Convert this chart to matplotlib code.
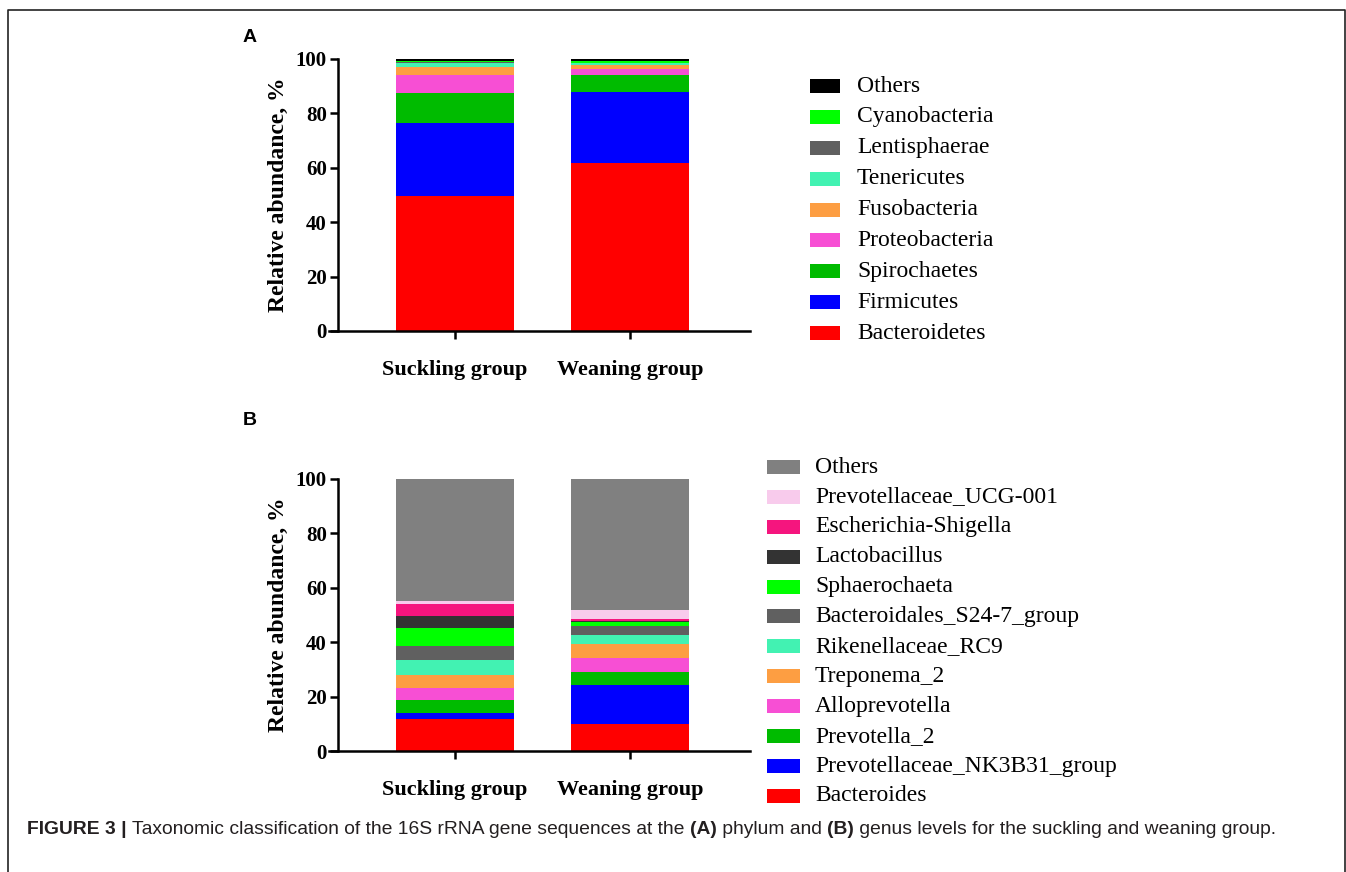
import numpy as np
import matplotlib.pyplot as plt
from matplotlib.patches import Rectangle
from matplotlib.lines import Line2D

# grupos
grupos = ["Suckling group", "Weaning group"]

# Panel A - filo (de abajo hacia arriba)
filos = ["Bacteroidetes", "Firmicutes", "Spirochaetes", "Proteobacteria",
         "Fusobacteria", "Tenericutes", "Lentisphaerae", "Cyanobacteria", "Others"]
filo_suckling = [49.6, 26.7, 11.2, 6.6, 2.9, 1.4, 0.6, 0.3, 0.7]
filo_weaning = [61.6, 26.3, 6.1, 2.4, 1.5, 0.6, 0.2, 0.6, 0.7]
filo_colores = ["#ff0000", "#0000ff", "#00bb00", "#f74fd4", "#fd9e42",
                "#42f2b2", "#606060", "#00ff00", "#000000"]

# Panel B - genero (de abajo hacia arriba)
generos = ["Bacteroides", "Prevotellaceae_NK3B31_group", "Prevotella_2", "Alloprevotella",
           "Treponema_2", "Rikenellaceae_RC9", "Bacteroidales_S24-7_group", "Sphaerochaeta",
           "Lactobacillus", "Escherichia-Shigella", "Prevotellaceae_UCG-001", "Others"]
gen_suckling = [11.6, 2.4, 4.75, 4.25, 4.8, 5.7, 5.1, 6.7, 4.3, 4.3, 1.4, 44.7]
gen_weaning = [9.8, 14.5, 4.7, 5.3, 4.9, 3.4, 3.5, 1.4, 0.4, 0.7, 3.4, 48.0]
gen_colores = ["#ff0000", "#0000ff", "#00bb00", "#f74fd4", "#fd9e42", "#42f2b2",
               "#606060", "#00ff00", "#333333", "#f5157e", "#f8cbec", "#808080"]

W, H = 1346, 872
fig = plt.figure(figsize=(W / 100, H / 100), dpi=100)
serif = "Liberation Serif"

def px(x0, y0, x1, y1):
    # rectangulo en pixeles -> fraccion de figura
    return [x0 / W, 1 - y1 / H, (x1 - x0) / W, (y1 - y0) / H]

def barras(ax, abajo, arriba, colores):
    x = np.arange(len(grupos))
    base = np.zeros(len(grupos))
    for i in range(len(colores)):
        vals = np.array([abajo[i], arriba[i]])
        ax.bar(x, vals, 0.67, bottom=base, color=colores[i], linewidth=0)
        base += vals
    ax.set_xlim(-0.669, 1.686)
    ax.set_ylim(0, 100)
    ax.set_yticks([0, 20, 40, 60, 80, 100])
    ax.set_xticks(x)
    ax.set_xticklabels(grupos, fontfamily=serif, fontweight="bold", fontsize=16)
    for t in ax.get_yticklabels():
        t.set_fontfamily(serif)
        t.set_fontweight("bold")
        t.set_fontsize(15)
    ax.spines["top"].set_visible(False)
    ax.spines["right"].set_visible(False)
    ax.spines["left"].set_linewidth(1.8)
    ax.spines["bottom"].set_linewidth(1.8)
    ax.spines["bottom"].set_bounds(-0.72, 1.686)
    ax.tick_params(axis="both", length=6, width=1.8, color="black")
    ax.tick_params(axis="x", pad=15)
    ax.tick_params(axis="y", pad=2)
    ax.set_ylabel("Relative abundance, %", fontfamily=serif, fontweight="bold",
                  fontsize=17, labelpad=5)

def leyenda(nombres, colores, hx0, hx1, tx, y0, paso):
    for i, (n, c) in enumerate(zip(nombres[::-1], colores[::-1])):
        yc = y0 + i * paso
        fig.add_artist(Rectangle((hx0 / W, 1 - (yc + 7) / H), (hx1 - hx0) / W, 14 / H,
                                 transform=fig.transFigure, color=c, linewidth=0))
        fig.text(tx / W, 1 - yc / H, n, fontfamily=serif, fontsize=17,
                 va="center", ha="left")

axA = fig.add_axes(px(338, 59, 750, 331))
barras(axA, filo_suckling, filo_weaning, filo_colores)
axB = fig.add_axes(px(338, 479, 750, 751))
barras(axB, gen_suckling, gen_weaning, gen_colores)

leyenda(filos, filo_colores, 810, 840, 857, 86, 30.9)
leyenda(generos, gen_colores, 767, 800, 815, 467, 29.9)

fig.text(243 / W, 1 - 38 / H, "A", fontfamily="Liberation Sans", fontweight="bold",
         fontsize=14, va="center")
fig.text(243 / W, 1 - 420 / H, "B", fontfamily="Liberation Sans", fontweight="bold",
         fontsize=14, va="center")

# marco
fig.add_artist(Line2D([8 / W, 8 / W, 1345 / W, 1345 / W], [0, 1 - 10 / H, 1 - 10 / H, 0],
                      transform=fig.transFigure, color="#222222", linewidth=1.2))

# pie de figura
partes = [("FIGURE 3 | ", "bold"),
          ("Taxonomic classification of the 16S rRNA gene sequences at the ", "normal"),
          ("(A)", "bold"), (" phylum and ", "normal"), ("(B)", "bold"),
          (" genus levels for the suckling and weaning group.", "normal")]
cap = fig.add_axes([0, 0, 1, 1])
cap.axis("off")
prev = cap.text(27 / W, 1 - 834 / H, partes[0][0], fontfamily="Liberation Sans",
                fontweight=partes[0][1], fontsize=13.9, va="baseline", color="#231f20")
for texto, peso in partes[1:]:
    prev = cap.annotate(texto, xy=(1, 0), xycoords=prev, va="bottom",
                        fontfamily="Liberation Sans", fontweight=peso, fontsize=13.9,
                        color="#231f20")

fig.savefig("out.png", dpi=100)
